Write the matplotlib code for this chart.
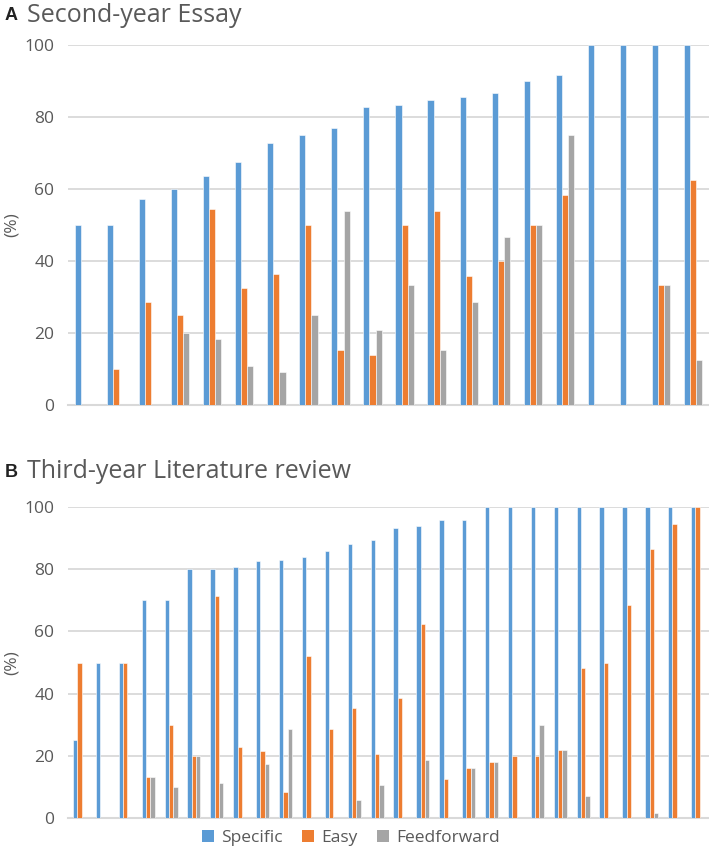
import numpy as np
import matplotlib.pyplot as plt
from matplotlib.patches import Patch

plt.rcParams['font.family'] = ['Open Sans', 'DejaVu Sans']

# A: second-year essay (20 students)
spec_a = [50, 50, 57.1, 60, 63.6, 67.4, 72.7, 75, 76.9, 82.8,
          83.3, 84.6, 85.7, 86.7, 90, 91.7, 100, 100, 100, 100]
easy_a = [0, 10, 28.6, 25, 54.5, 32.6, 36.4, 50, 15.4, 13.8,
          50, 53.8, 35.7, 40, 50, 58.3, 0, 0, 33.3, 62.5]
ff_a = [0, 0, 0, 20, 18.2, 10.9, 9.1, 25, 53.8, 20.7,
        33.3, 15.4, 28.6, 46.7, 50, 75, 0, 0, 33.3, 12.5]

# B: third-year literature review (28 students)
spec_b = [25, 50, 50, 70, 70, 80, 80, 80.6, 82.6, 83, 84, 85.7, 88.2, 89.3,
          93.4, 93.8, 95.7, 95.7, 100, 100, 100, 100, 100, 100, 100, 100, 100, 100]
easy_b = [50, 0, 50, 13.3, 30, 20, 71.4, 22.9, 21.7, 8.5, 52, 28.6, 35.3, 20.7,
          38.6, 62.3, 12.4, 16.1, 18, 20, 20, 22, 48.1, 50, 68.6, 86.5, 94.7, 100]
ff_b = [0, 0, 0, 13.3, 10, 20, 11.4, 0, 17.4, 28.6, 0, 0, 5.9, 10.5,
        0, 18.8, 0, 16.1, 18, 0, 30, 22, 7, 0, 0, 1.6, 0, 0]

colors = ['#5B9BD5', '#ED7D31', '#A5A5A5']
names = ['Specific', 'Easy', 'Feedforward']
txt = '#595959'
grid = '#D9D9D9'

fig = plt.figure(figsize=(7.09, 8.48), dpi=100)
ax_a = fig.add_axes([0.096, 0.5224, 0.904, 0.4245])
ax_b = fig.add_axes([0.096, 0.0354, 0.904, 0.3667])


def draw(ax, series):
    n = len(series[0])
    x = np.arange(n)
    w = 0.19
    for k, (vals, c) in enumerate(zip(series, colors)):
        ax.bar(x + (k - 1) * w, vals, w, color=c, edgecolor='white', linewidth=0.4, zorder=3)
    ax.set_xlim(-0.5, n - 0.5)
    ax.set_ylim(0, 100)
    ax.set_yticks(range(0, 101, 20))
    ax.set_xticks([])
    ax.yaxis.grid(True, color=grid, linewidth=1.3, zorder=0)
    for s in ['top', 'right', 'left']:
        ax.spines[s].set_visible(False)
    ax.spines['bottom'].set_color(grid)
    ax.spines['bottom'].set_linewidth(1.5)
    ax.tick_params(axis='y', length=0, pad=10, labelsize=12.5, labelcolor=txt)
    ax.set_ylabel('(%)', fontsize=12.5, color=txt, va='center')
    ax.yaxis.set_label_coords(-0.088, 0.5)


draw(ax_a, [spec_a, easy_a, ff_a])
draw(ax_b, [spec_b, easy_b, ff_b])

fig.text(0.007, 1 - 16 / 848, 'A', fontsize=13, fontweight='bold', color='#222222',
         family='Liberation Sans', va='center')
fig.text(0.038, 1 - 15 / 848, 'Second-year Essay', fontsize=18, color=txt, va='center')
fig.text(0.007, 1 - 473 / 848, 'B', fontsize=13, fontweight='bold', color='#222222',
         family='Liberation Sans', va='center')
fig.text(0.038, 1 - 472 / 848, 'Third-year Literature review', fontsize=18, color=txt, va='center')

handles = [Patch(facecolor=c, label=nm) for c, nm in zip(colors, names)]
fig.legend(handles=handles, loc='center', bbox_to_anchor=(0.495, 1 - 838 / 848), ncol=3,
           frameon=False, fontsize=12.5, labelcolor=txt, handlelength=0.7, handleheight=0.7,
           handletextpad=0.4, columnspacing=1.1, borderpad=0)

fig.savefig('out.png', dpi=100)
